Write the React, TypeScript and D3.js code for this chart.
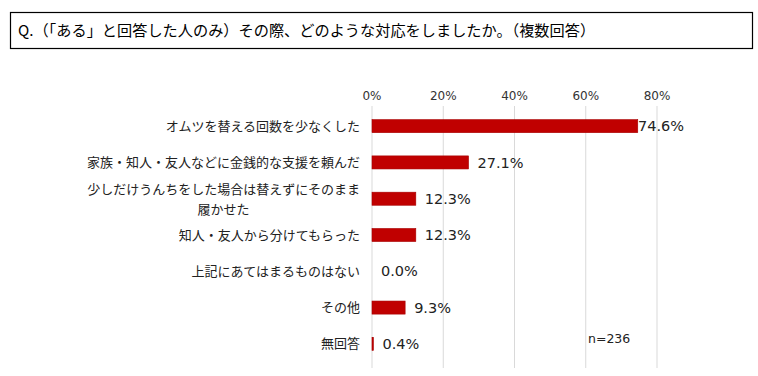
import React from "react";
import * as d3 from "d3";

const categories: string[][] = [
  ["オムツを替える回数を少なくした"],
  ["家族・知人・友人などに金銭的な支援を頼んだ"],
  ["少しだけうんちをした場合は替えずにそのまま", "履かせた"],
  ["知人・友人から分けてもらった"],
  ["上記にあてはまるものはない"],
  ["その他"],
  ["無回答"],
];
const values: number[] = [74.6, 27.1, 12.3, 12.3, 0.0, 9.3, 0.4];
const ticks: number[] = [0, 20, 40, 60, 80];
const title = "Q.（「ある」と回答した人のみ）その際、どのような対応をしましたか。（複数回答）";
const note = "n=236";

const JP = "'Noto Sans CJK JP', 'Noto Sans', sans-serif";
const NUM = "'DejaVu Sans', Verdana, sans-serif";

export default function App() {
  const W = 758, H = 376;
  const x = d3.scaleLinear().domain([0, 80]).range([372, 657]);
  const keys = categories.map((_, i) => String(i));
  const y = d3.scaleBand<string>().domain(keys).range([108, 362]).paddingInner(0.64).paddingOuter(0.32);
  const bw = y.bandwidth();
  const gridTop = 106, gridBottom = 368;
  return (
    <svg width={W} height={H} style={{ position: "absolute", left: 0, top: 0, background: "#fff" }}>
      <rect x={10.5} y={12.5} width={742} height={36} fill="none" stroke="#000" strokeWidth={1.2} />
      <text x={18} y={36} fontFamily={JP} fontSize={15.2} fill="#000">{title}</text>
      {ticks.map((t) => (
        <g key={t}>
          <line x1={x(t)} x2={x(t)} y1={gridTop} y2={gridBottom} stroke="#d9d9d9" strokeWidth={1} />
          <text x={x(t)} y={96} dy="0.35em" textAnchor="middle" fontFamily={NUM} fontSize={12} fill="#333">{t}%</text>
        </g>
      ))}
      {values.map((v, i) => {
        const yc = (y(String(i)) as number) + bw / 2;
        const lines = categories[i];
        const xe = x(v);
        const lx = Math.min(xe + 9, 638);
        return (
          <g key={i}>
            {v > 0 && (
              <rect x={x(0)} y={yc - bw / 2} width={xe - x(0)} height={bw} fill="#C00000" stroke="#A80000" strokeWidth={0.6} />
            )}
            <text x={lx} y={yc} dy="0.35em" fontFamily={NUM} fontSize={14.5} fill="#222">{v.toFixed(1)}%</text>
            {lines.length === 1 ? (
              <text x={360} y={yc} dy="0.35em" textAnchor="end" fontFamily={JP} fontSize={13} fill="#222">{lines[0]}</text>
            ) : (
              <g>
                <text x={360} y={yc - 9.5} dy="0.35em" textAnchor="end" fontFamily={JP} fontSize={13} fill="#222">{lines[0]}</text>
                <text x={360 - (13 * lines[0].length) / 2} y={yc + 11} dy="0.35em" textAnchor="middle" fontFamily={JP} fontSize={13} fill="#222">{lines[1]}</text>
              </g>
            )}
          </g>
        );
      })}
      <text x={588} y={339} dy="0.35em" fontFamily={NUM} fontSize={12.5} fill="#222">{note}</text>
    </svg>
  );
}
